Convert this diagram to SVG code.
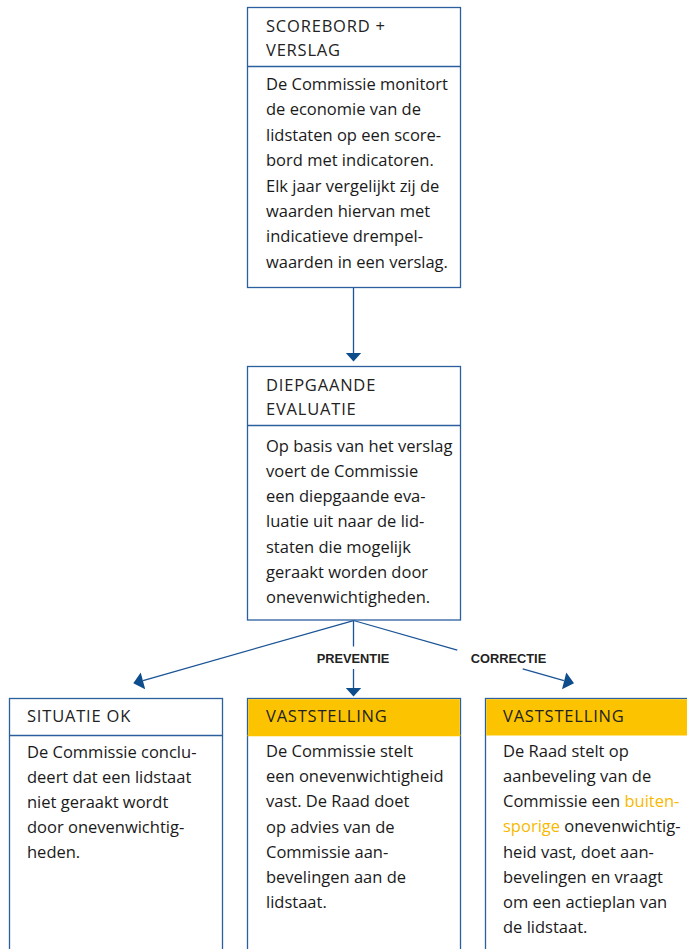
<svg xmlns="http://www.w3.org/2000/svg" width="687" height="949" viewBox="0 0 687 949">
<style>
.box{fill:#fff;stroke:#2b5f9e;stroke-width:1.3}
.div{stroke:#2b5f9e;stroke-width:1.3}
.hdr{fill:#fcc400}
.ht{font-family:"Open Sans","Noto Sans",sans-serif;font-size:16.5px;fill:#222;letter-spacing:0.8px}
.bt{font-family:"Open Sans","Noto Sans",sans-serif;font-size:16.5px;fill:#1a1a1a}
.hl{fill:#f7b900}
.lab{font-family:"Liberation Sans",Arial,sans-serif;font-size:12.8px;font-weight:bold;fill:#222;text-anchor:middle}
.con{stroke:#1a5496;stroke-width:1.3;fill:none}
.ah{fill:#0d4d8c}
</style>
<rect width="687" height="949" fill="#fff"/>

<g id="connectors">
  <line class="con" x1="353.5" y1="288" x2="353.5" y2="354"/>
  <polygon class="ah" points="345.8,353 361.2,353 353.5,361.5"/>
  <line class="con" x1="353.5" y1="620.5" x2="143" y2="680.6"/>
  <polygon class="ah" points="133.3,683.3 140.7,672.6 145.2,689.2"/>
  <line class="con" x1="353.5" y1="620.5" x2="353.5" y2="646.5"/>
  <line class="con" x1="353.5" y1="669" x2="353.5" y2="689"/>
  <polygon class="ah" points="345.8,688 361.2,688 353.5,696.5"/>
  <line class="con" x1="353.5" y1="620.5" x2="457.3" y2="650.2"/>
  <line class="con" x1="522.7" y1="668.8" x2="564" y2="680.6"/>
  <polygon class="ah" points="574,683.3 566.3,672.6 562,689.2"/>
  <text class="lab" x="353" y="663.3">PREVENTIE</text>
  <text class="lab" x="508.5" y="663.3">CORRECTIE</text>
</g>

<g id="scorebord">
  <rect class="box" x="247.5" y="7.5" width="213" height="280"/>
  <line class="div" x1="247.5" y1="66.5" x2="460.5" y2="66.5"/>
  <text class="ht" x="266" y="32">SCOREBORD +</text>
  <text class="ht" x="266" y="56">VERSLAG</text>
  <text class="bt" x="266" y="90">De Commissie monitort</text>
  <text class="bt" x="266" y="115.4">de economie van de</text>
  <text class="bt" x="266" y="140.8">lidstaten op een score-</text>
  <text class="bt" x="266" y="166.2">bord met indicatoren.</text>
  <text class="bt" x="266" y="191.6">Elk jaar vergelijkt zij de</text>
  <text class="bt" x="266" y="217">waarden hiervan met</text>
  <text class="bt" x="266" y="242.4">indicatieve drempel-</text>
  <text class="bt" x="266" y="267.8">waarden in een verslag.</text>
</g>

<g id="evaluatie">
  <rect class="box" x="247.5" y="366.5" width="213" height="253.5"/>
  <line class="div" x1="247.5" y1="425.5" x2="460.5" y2="425.5"/>
  <text class="ht" x="266" y="390.5">DIEPGAANDE</text>
  <text class="ht" x="266" y="415">EVALUATIE</text>
  <text class="bt" x="266" y="451.7">Op basis van het verslag</text>
  <text class="bt" x="266" y="476.9">voert de Commissie</text>
  <text class="bt" x="266" y="502.1">een diepgaande eva-</text>
  <text class="bt" x="266" y="527.3">luatie uit naar de lid-</text>
  <text class="bt" x="266" y="552.5">staten die mogelijk</text>
  <text class="bt" x="266" y="577.7">geraakt worden door</text>
  <text class="bt" x="266" y="602.9">onevenwichtigheden.</text>
</g>

<g id="situatie-ok">
  <rect class="box" x="9.5" y="698.5" width="213" height="270"/>
  <line class="div" x1="9.5" y1="735.5" x2="222.5" y2="735.5"/>
  <text class="ht" x="27" y="722">SITUATIE OK</text>
  <text class="bt" x="27" y="757.5">De Commissie conclu-</text>
  <text class="bt" x="27" y="782.7">deert dat een lidstaat</text>
  <text class="bt" x="27" y="807.9">niet geraakt wordt</text>
  <text class="bt" x="27" y="833.1">door onevenwichtig-</text>
  <text class="bt" x="27" y="858.3">heden.</text>
</g>

<g id="vaststelling-preventie">
  <rect class="box" x="247.5" y="698.5" width="213" height="270"/>
  <rect class="hdr" x="248.2" y="699.2" width="211.6" height="36.3"/>
  <line class="div" x1="247.5" y1="735.5" x2="460.5" y2="735.5" style="stroke:#fcc400"/>
  <text class="ht" x="266" y="722">VASTSTELLING</text>
  <text class="bt" x="266" y="757">De Commissie stelt</text>
  <text class="bt" x="266" y="782.2">een onevenwichtigheid</text>
  <text class="bt" x="266" y="807.4">vast. De Raad doet</text>
  <text class="bt" x="266" y="832.6">op advies van de</text>
  <text class="bt" x="266" y="857.8">Commissie aan-</text>
  <text class="bt" x="266" y="883">bevelingen aan de</text>
  <text class="bt" x="266" y="908.2">lidstaat.</text>
</g>

<g id="vaststelling-correctie">
  <rect class="box" x="485.5" y="698.5" width="220" height="270"/>
  <rect class="hdr" x="486.2" y="699.2" width="210" height="36.3"/>
  <text class="ht" x="503" y="722">VASTSTELLING</text>
  <text class="bt" x="503" y="756.7">De Raad stelt op</text>
  <text class="bt" x="503" y="781.9">aanbeveling van de</text>
  <text class="bt" x="503" y="807.1">Commissie een <tspan class="hl">buiten-</tspan></text>
  <text class="bt" x="503" y="832.3"><tspan class="hl">sporige</tspan> onevenwichtig-</text>
  <text class="bt" x="503" y="857.5">heid vast, doet aan-</text>
  <text class="bt" x="503" y="882.7">bevelingen en vraagt</text>
  <text class="bt" x="503" y="907.9">om een actieplan van</text>
  <text class="bt" x="503" y="933.1">de lidstaat.</text>
</g>
</svg>
